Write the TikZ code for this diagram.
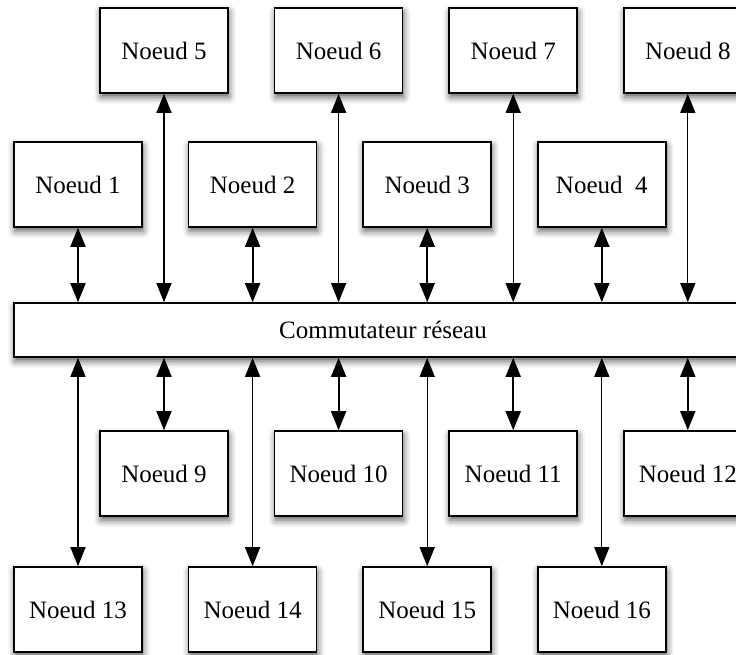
\documentclass[tikz,border=0pt]{standalone}
\usepackage{fontspec}
\setmainfont{Liberation Serif}
\usetikzlibrary{positioning, shadows.blur, arrows.meta}

\tikzset{
    noeud/.style={draw, line width=1.6pt, fill=white, minimum width=128pt, minimum height=85pt,
        inner sep=0pt, font=\fontsize{25}{29}\selectfont,
        blur shadow={shadow xshift=1pt, shadow yshift=-4pt, shadow blur radius=7pt, shadow opacity=65}},
    lien/.style={{Triangle[length=19pt, width=15pt]}-{Triangle[length=19pt, width=15pt]}, line width=1.8pt},
    longlien/.style={lien, line width=1.3pt},
}

\begin{document}
\begin{tikzpicture}[x=1pt, y=1pt, node distance=45pt]
    \useasboundingbox (0,0) rectangle (736,-654);

    \node[noeud]                        (Noeud 5)  at (164,-50.5) {Noeud 5};
    \node[noeud, right=of Noeud 5]      (Noeud 6)  {Noeud 6};
    \node[noeud, right=of Noeud 6]      (Noeud 7)  {Noeud 7};
    \node[noeud, right=of Noeud 7]      (Noeud 8)  {Noeud 8};

    \node[noeud]                        (Noeud 1)  at (78,-184.5) {Noeud 1};
    \node[noeud, right=of Noeud 1]      (Noeud 2)  {Noeud 2};
    \node[noeud, right=of Noeud 2]      (Noeud 3)  {Noeud 3};
    \node[noeud, right=of Noeud 3]      (Noeud 4)  {Noeud\ \ 4};

    \node[noeud, minimum width=738pt, minimum height=54pt] (Switch) at (383,-330) {Commutateur réseau};

    \node[noeud]                        (Noeud 9)  at (164,-473.5) {Noeud 9};
    \node[noeud, right=of Noeud 9]      (Noeud 10) {Noeud 10};
    \node[noeud, right=of Noeud 10]     (Noeud 11) {Noeud 11};
    \node[noeud, right=of Noeud 11]     (Noeud 12) {Noeud 12};

    \node[noeud]                        (Noeud 13) at (78,-609.5) {Noeud 13};
    \node[noeud, right=of Noeud 13]     (Noeud 14) {Noeud 14};
    \node[noeud, right=of Noeud 14]     (Noeud 15) {Noeud 15};
    \node[noeud, right=of Noeud 15]     (Noeud 16) {Noeud 16};

    \foreach \n in {1,...,4}
        \draw[lien] (Noeud \n.south) -- (Noeud \n.south |- Switch.north);
    \foreach \n in {5,...,8}
        \draw[longlien] (Noeud \n.south) -- (Noeud \n.south |- Switch.north);
    \foreach \n in {9,...,12}
        \draw[lien] (Switch.south -| Noeud \n.north) -- (Noeud \n.north);
    \foreach \n in {13,...,16}
        \draw[longlien] (Switch.south -| Noeud \n.north) -- (Noeud \n.north);
\end{tikzpicture}
\end{document}
